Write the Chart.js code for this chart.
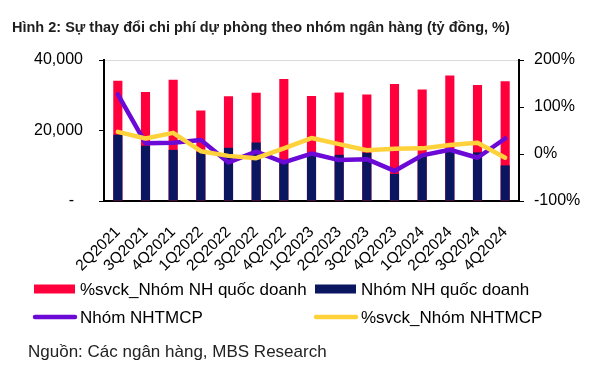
<!DOCTYPE html>
<html><head><meta charset="utf-8">
<script src="https://cdn.jsdelivr.net/npm/chart.js@4.4.1/dist/chart.umd.min.js"></script>
<style>
html,body{margin:0;padding:0;background:#fff;}
#wrap{position:relative;width:612px;height:376px;overflow:hidden;font-family:"Liberation Sans",Arial,sans-serif;}
#title{position:absolute;left:12px;top:18.5px;font-size:14.5px;font-weight:bold;line-height:17px;color:#1e1e1e;white-space:nowrap;}
#src{position:absolute;left:28px;top:342px;font-size:17px;line-height:20px;color:#222;white-space:nowrap;}
canvas{position:absolute;left:0;top:0;}
</style></head><body>
<div id="wrap"><canvas id="c" width="612" height="376"></canvas>
<div id="title">Hình 2: Sự thay đổi chi phí dự phòng theo nhóm ngân hàng (tỷ đồng, %)</div>
<div id="src">Nguồn: Các ngân hàng, MBS Research</div></div>
<script>
const categories = ['2Q2021','3Q2021','4Q2021','1Q2022','2Q2022','3Q2022','4Q2022','1Q2023','2Q2023','3Q2023','4Q2023','1Q2024','2Q2024','3Q2024','4Q2024'];
const svckQuocDoanhBar = [34100, 30900, 34400, 25700, 29700, 30700, 34600, 29800, 30800, 30200, 33200, 31600, 35600, 32900, 34000];
const nhQuocDoanh = [18800, 15700, 14500, 14000, 15100, 16600, 11600, 13600, 13100, 13700, 7700, 13000, 14500, 13800, 10100];
const nhomNHTMCP = [127, 23, 24, 30, -18, 5, -18, 1, -13, -11, -36, -3, 9, -8, 33];
const svckNHTMCP = [47, 33, 45, 6, -4, -9, 12, 34, 21, 8, 11, 12, 19, 24, -8];
const leftTicks = [0, 20000, 40000];
const rightTicks = [-100, 0, 100, 200];

const FONT = '"Liberation Sans", Arial, sans-serif';

const legendPlugin = {
  id: 'customLegend',
  afterDraw(chart) {
    const ctx = chart.ctx;
    const slots = [[34, 289], [315, 289], [34, 317], [315, 317]];
    ctx.save();
    chart.data.datasets.forEach((ds, i) => {
      const [x, y] = slots[i];
      if (ds.type === 'bar') {
        ctx.fillStyle = ds.backgroundColor;
        ctx.fillRect(x, y - 4.5, 41, 9);
      } else {
        ctx.strokeStyle = ds.borderColor;
        ctx.lineWidth = 4.5;
        ctx.lineCap = 'round';
        ctx.beginPath();
        ctx.moveTo(x + 1, y);
        ctx.lineTo(x + 41, y);
        ctx.stroke();
      }
      ctx.fillStyle = '#000';
      ctx.font = '17px ' + FONT;
      ctx.textBaseline = 'middle';
      ctx.textAlign = 'left';
      ctx.fillText(ds.label, x + 46, y + 1);
    });
    ctx.restore();
  }
};

new Chart(document.getElementById('c'), {
  data: {
    labels: categories,
    datasets: [
      { type: 'bar', label: '%svck_Nhóm NH quốc doanh', data: svckQuocDoanhBar, backgroundColor: '#FF003C', yAxisID: 'y', order: 4, grouped: false, barPercentage: 0.33, categoryPercentage: 1 },
      { type: 'bar', label: 'Nhóm NH quốc doanh', data: nhQuocDoanh, backgroundColor: '#0A1660', yAxisID: 'y', order: 3, grouped: false, barPercentage: 0.33, categoryPercentage: 1 },
      { type: 'line', label: 'Nhóm NHTMCP', data: nhomNHTMCP, borderColor: '#6B0AD6', backgroundColor: '#6B0AD6', borderWidth: 4.5, pointRadius: 0, tension: 0, borderJoinStyle: 'round', borderCapStyle: 'round', yAxisID: 'y1', order: 2 },
      { type: 'line', label: '%svck_Nhóm NHTMCP', data: svckNHTMCP, borderColor: '#FFD23C', backgroundColor: '#FFD23C', borderWidth: 4.5, pointRadius: 0, tension: 0, borderJoinStyle: 'round', borderCapStyle: 'round', yAxisID: 'y1', order: 1 }
    ]
  },
  options: {
    responsive: false, animation: false, devicePixelRatio: 1,
    layout: { padding: { top: 60, left: 0, right: 0, bottom: 0 } },
    plugins: { legend: { display: false }, tooltip: { enabled: false }, title: { display: false } },
    scales: {
      x: {
        grid: { display: false, drawTicks: false },
        border: { color: '#000', width: 2 },
        ticks: { autoSkip: false, maxRotation: 45, minRotation: 45, font: { family: FONT, size: 15.5 }, color: '#000', padding: 22 },
        afterFit: s => { s.height = 175; }
      },
      y: {
        position: 'left', min: 0, max: 40000,
        afterBuildTicks: s => { s.ticks = leftTicks.map(v => ({ value: v })); },
        ticks: { font: { family: FONT, size: 16 }, color: '#000', padding: 16,
          callback: v => v === 0 ? '-  ' : v.toLocaleString('en-US') },
        grid: { drawOnChartArea: true, color: c => (c.tick && c.tick.value === 40000) ? '#d9d9d9' : 'rgba(0,0,0,0)', tickColor: '#000', tickLength: 5, lineWidth: 1 },
        border: { color: '#000', width: 2 },
        afterFit: s => { s.width = 104; }
      },
      y1: {
        position: 'right', min: -100, max: 200,
        afterBuildTicks: s => { s.ticks = rightTicks.map(v => ({ value: v })); },
        ticks: { font: { family: FONT, size: 16 }, color: '#000', padding: 10, callback: v => v + '%' },
        grid: { drawOnChartArea: false, tickColor: '#000', tickLength: 5 },
        border: { color: '#000', width: 2 },
        afterFit: s => { s.width = 93; }
      }
    }
  },
  plugins: [legendPlugin]
});
</script>
</body></html>
